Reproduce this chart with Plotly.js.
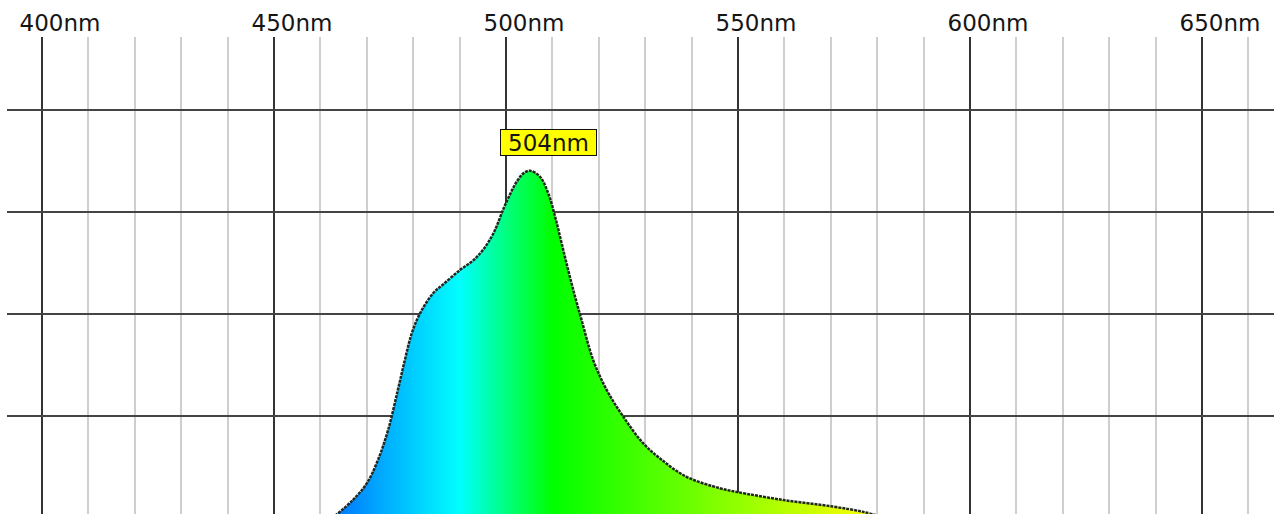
<!DOCTYPE html>
<html>
<head>
<meta charset="utf-8">
<script src="https://cdn.plot.ly/plotly-3.0.1.min.js"></script>
<style>
html,body{margin:0;padding:0;background:#fff;}
#chart{width:1274px;height:514px;}
</style>
</head>
<body>
<div id="chart"></div>
<script>
// Spectrum samples (wavelength in nm, relative intensity in %)
var wavelength = [463.1, 467.0, 470.0, 472.4, 474.6, 476.7, 478.2, 479.7, 481.5, 484.3, 486.5, 490.1, 493.0, 495.1, 497.3, 499.8, 502.4, 503.9, 505.2, 507.3, 509.1, 510.6, 512.0, 513.4, 514.9, 516.3, 518.8, 521.7, 525.3, 529.5, 533.2, 538.9, 546.1, 549.7, 559.8, 570.5, 577.0, 581.0];
var intensity  = [0.5, 4.4, 8.5, 14.2, 21.6, 31.4, 38.7, 45.3, 50.2, 55.1, 57.3, 60.8, 63.2, 65.8, 69.8, 76.7, 82.6, 84.6, 85.1, 83.7, 79.6, 73.8, 67.3, 60.8, 54.2, 48.5, 38.7, 31.4, 24.8, 18.4, 14.6, 10.1, 7.3, 6.4, 4.4, 2.8, 1.5, 0.3];
var tickValues = [400, 450, 500, 550, 600, 650];
var tickLabels = ['400nm', '450nm', '500nm', '550nm', '600nm', '650nm'];
var gridLevels = [25, 50, 75, 100];
var peakWavelength = 504;

// wavelength -> visible colour (used for the fill gradient)
function wlColor(l) {
  var r = 0, g = 0, b = 0;
  if (l < 440) { r = -(l - 440) / 60; b = 1; }
  else if (l < 490) { g = (l - 440) / 50; b = 1; }
  else if (l < 510) { g = 1; b = -(l - 510) / 20; }
  else if (l < 580) { r = (l - 510) / 70; g = 1; }
  else if (l < 645) { r = 1; g = -(l - 645) / 65; }
  else { r = 1; }
  function c(v){ return Math.round(Math.max(0, Math.min(1, v)) * 255); }
  return 'rgb(' + c(r) + ',' + c(g) + ',' + c(b) + ')';
}
var gStart = 455, gStop = 590;
var scale = [];
for (var l = gStart; l <= gStop; l += 2.5) {
  scale.push([(l - gStart) / (gStop - gStart), wlColor(l)]);
}

var trace = {
  x: wavelength,
  y: intensity,
  type: 'scatter',
  mode: 'lines',
  line: { color: '#22281f', width: 2.5, dash: '3px,1px', shape: 'spline', smoothing: 1 },
  fill: 'tozeroy',
  fillgradient: { type: 'horizontal', colorscale: scale, start: gStart, stop: gStop },
  hoverinfo: 'x+y'
};

var layout = {
  width: 1274, height: 514,
  margin: { l: 7, r: 0, t: 37, b: 0, pad: 0 },
  paper_bgcolor: '#ffffff',
  plot_bgcolor: '#ffffff',
  showlegend: false,
  font: { family: 'DejaVu Sans, Verdana, sans-serif', color: '#111' },
  xaxis: {
    range: [392.46, 665.52],
    side: 'top',
    automargin: false,
    tickmode: 'array',
    tickvals: tickValues,
    ticktext: tickLabels,
    ticks: '',
    ticklabelshift: 18,
    ticklabelstandoff: 0,
    tickfont: { size: 23, color: '#151515', family: 'DejaVu Sans, Verdana, sans-serif' },
    showgrid: true,
    gridcolor: '#333333',
    gridwidth: 2,
    minor: { dtick: 10, tick0: 400, showgrid: true, gridcolor: '#cfcfcf', gridwidth: 2, ticks: '' },
    zeroline: false,
    showline: false,
    fixedrange: true
  },
  yaxis: {
    range: [0.98, 117.9],
    automargin: false,
    tickmode: 'array',
    tickvals: gridLevels,
    showticklabels: false,
    ticks: '',
    showgrid: true,
    gridcolor: '#444444',
    gridwidth: 2,
    zeroline: false,
    showline: false,
    fixedrange: true
  },
  annotations: [{
    x: peakWavelength, y: Math.max.apply(null, intensity),
    xref: 'x', yref: 'y',
    text: peakWavelength + 'nm',
    showarrow: false,
    xanchor: 'center', yanchor: 'middle',
    xshift: 24, yshift: 28,
    width: 95, height: 25,
    align: 'center',
    bgcolor: '#ffff00',
    bordercolor: '#111',
    borderwidth: 1,
    borderpad: 0,
    font: { size: 23, color: '#151515', family: 'DejaVu Sans, Verdana, sans-serif' }
  }]
};

Plotly.newPlot('chart', [trace], layout, { displayModeBar: false, staticPlot: true });
</script>
</body>
</html>
